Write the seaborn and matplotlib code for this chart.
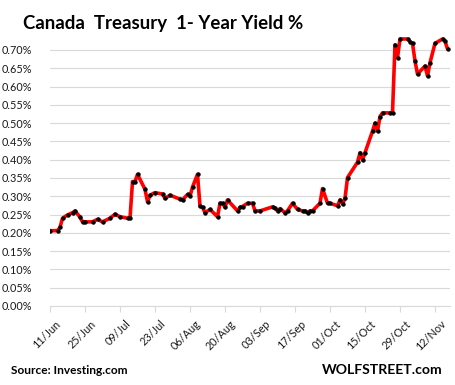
import matplotlib
matplotlib.use('Agg')
import pandas as pd
import matplotlib.pyplot as plt
import matplotlib.dates as mdates
import matplotlib.ticker as mticker
import matplotlib.transforms as mtransforms
import seaborn as sns

# Canada 1-year yield, %
dates = [
    '2018-06-11', '2018-06-14', '2018-06-15', '2018-06-16', '2018-06-18', '2018-06-20',
    '2018-06-21', '2018-06-23', '2018-06-24', '2018-06-25', '2018-06-28', '2018-06-30',
    '2018-07-02', '2018-07-05', '2018-07-07', '2018-07-09', '2018-07-12', '2018-07-13',
    '2018-07-14', '2018-07-15', '2018-07-16', '2018-07-19', '2018-07-20', '2018-07-21',
    '2018-07-23', '2018-07-26', '2018-07-27', '2018-07-29', '2018-08-02', '2018-08-03',
    '2018-08-05', '2018-08-06', '2018-08-07', '2018-08-09', '2018-08-10', '2018-08-11',
    '2018-08-12', '2018-08-14', '2018-08-17', '2018-08-18', '2018-08-19', '2018-08-20',
    '2018-08-21', '2018-08-25', '2018-08-26', '2018-08-27', '2018-08-29', '2018-08-31',
    '2018-09-01', '2018-09-03', '2018-09-08', '2018-09-09', '2018-09-10', '2018-09-11',
    '2018-09-13', '2018-09-14', '2018-09-16', '2018-09-18', '2018-09-20', '2018-09-21',
    '2018-09-22', '2018-09-23', '2018-09-24', '2018-09-27', '2018-09-28', '2018-09-30',
    '2018-10-01', '2018-10-04', '2018-10-05', '2018-10-06', '2018-10-07', '2018-10-08',
    '2018-10-12', '2018-10-13', '2018-10-14', '2018-10-15', '2018-10-18', '2018-10-19',
    '2018-10-20', '2018-10-21', '2018-10-22', '2018-10-25', '2018-10-26', '2018-10-27',
    '2018-10-28', '2018-10-29', '2018-11-01', '2018-11-02', '2018-11-03', '2018-11-04',
    '2018-11-05', '2018-11-08', '2018-11-09', '2018-11-10', '2018-11-12', '2018-11-15',
    '2018-11-16', '2018-11-17',
]
yields = [
    0.206, 0.206, 0.215, 0.240, 0.249, 0.255,
    0.260, 0.243, 0.230, 0.230, 0.230, 0.237,
    0.230, 0.240, 0.251, 0.244, 0.240, 0.240,
    0.340, 0.340, 0.360, 0.319, 0.285, 0.303,
    0.310, 0.306, 0.294, 0.303, 0.292, 0.290,
    0.305, 0.300, 0.325, 0.360, 0.273, 0.270,
    0.255, 0.264, 0.244, 0.281, 0.281, 0.270,
    0.290, 0.260, 0.270, 0.272, 0.281, 0.281,
    0.260, 0.260, 0.271, 0.268, 0.260, 0.266,
    0.255, 0.260, 0.281, 0.264, 0.260, 0.260,
    0.255, 0.260, 0.260, 0.281, 0.321, 0.281,
    0.281, 0.274, 0.290, 0.279, 0.294, 0.351,
    0.393, 0.419, 0.399, 0.419, 0.478, 0.500,
    0.478, 0.518, 0.528, 0.528, 0.528, 0.714,
    0.679, 0.730, 0.730, 0.723, 0.718, 0.670,
    0.634, 0.656, 0.629, 0.665, 0.718, 0.730,
    0.724, 0.703,
]
tick_dates = ['2018-06-11', '2018-06-25', '2018-07-09', '2018-07-23', '2018-08-06', '2018-08-20',
              '2018-09-03', '2018-09-17', '2018-10-01', '2018-10-15', '2018-10-29', '2018-11-12']
y_ticks = [0.00, 0.05, 0.10, 0.15, 0.20, 0.25, 0.30, 0.35, 0.40, 0.45, 0.50, 0.55, 0.60, 0.65, 0.70]

df = pd.DataFrame({'date': pd.to_datetime(dates), 'yield': yields})

sns.set_theme(style='white')
plt.rcParams['font.family'] = ['Lato', 'DejaVu Sans']

W, H = 456, 385
fig = plt.figure(figsize=(W / 100, H / 100), dpi=100)
ax = fig.add_axes([50 / W, (H - 306) / H, 400 / W, 272.5 / H])

sns.lineplot(data=df, x='date', y='yield', ax=ax, color='#ff0000', linewidth=2.6,
             marker='o', markersize=2.4, markerfacecolor='black', markeredgecolor='black')

ax.set_xlim(pd.Timestamp('2018-06-11'), pd.Timestamp('2018-11-18'))
ax.set_ylim(0, 0.745)
ax.set_yticks(y_ticks)
ax.yaxis.set_major_formatter(mticker.FuncFormatter(lambda v, p: f'{v:.2f}%'))
ax.set_xticks(pd.to_datetime(tick_dates))
ax.xaxis.set_major_formatter(mdates.DateFormatter('%d/%b'))

ax.grid(axis='y', color='#d9d9d9', linewidth=0.8)
ax.grid(axis='x', visible=False)
for s in ['top', 'right', 'left']:
    ax.spines[s].set_visible(False)
ax.spines['bottom'].set_color('#d9d9d9')
ax.spines['bottom'].set_linewidth(0.8)

ax.tick_params(axis='y', length=0, pad=13, labelsize=7.8, labelcolor='#1a1a1a')
ax.tick_params(axis='x', direction='out', length=4, width=0.8, color='#d9d9d9',
               bottom=True, pad=2, labelsize=7.8, labelcolor='#1a1a1a')
shift = mtransforms.ScaledTranslation(5 / 100, -4 / 100, fig.dpi_scale_trans)
for lbl in ax.get_xticklabels():
    lbl.set_rotation(45)
    lbl.set_ha('right')
    lbl.set_rotation_mode('anchor')
    lbl.set_transform(lbl.get_transform() + shift)
ax.set_xlabel('')
ax.set_ylabel('')

fig.text(23 / W, 1 - 29 / H, 'Canada  Treasury  1- Year Yield %', fontsize=13.4,
         fontweight='bold', color='black', va='baseline', ha='left')
fig.text(11 / W, 1 - 374 / H, 'Source: Investing.com', fontsize=8.6,
         fontweight='bold', color='black', va='baseline', ha='left')
fig.text(443 / W, 1 - 374 / H, 'WOLFSTREET.com', fontsize=10.1,
         fontweight='bold', color='black', va='baseline', ha='right')

fig.savefig('out.png', dpi=100, facecolor='white')
